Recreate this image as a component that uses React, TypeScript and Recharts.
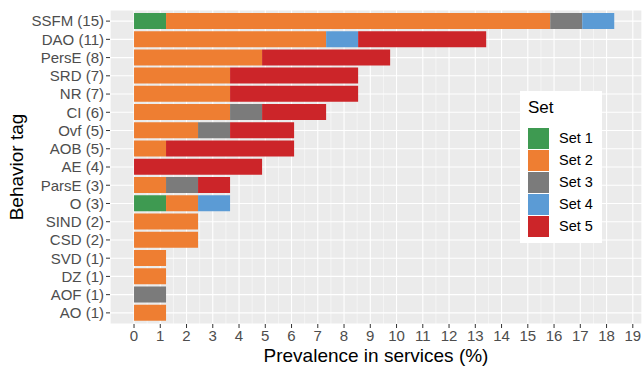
import { Bar, BarChart, CartesianGrid, XAxis, YAxis } from "recharts";

// one service = 100 / 82 %
const TOTAL_SERVICES = 82;

const tags = [
  "SSFM (15)", "DAO (11)", "PersE (8)", "SRD (7)", "NR (7)", "CI (6)", "Ovf (5)", "AOB (5)",
  "AE (4)", "ParsE (3)", "O (3)", "SIND (2)", "CSD (2)", "SVD (1)", "DZ (1)", "AOF (1)", "AO (1)",
];
// services per set, same order as tags
const set1 = [1, 0, 0, 0, 0, 0, 0, 0, 0, 0, 1, 0, 0, 0, 0, 0, 0];
const set2 = [12, 6, 4, 3, 3, 3, 2, 1, 0, 1, 1, 2, 2, 1, 1, 0, 1];
const set3 = [1, 0, 0, 0, 0, 1, 1, 0, 0, 1, 0, 0, 0, 0, 0, 1, 0];
const set4 = [1, 1, 0, 0, 0, 0, 0, 0, 0, 0, 1, 0, 0, 0, 0, 0, 0];
const set5 = [0, 4, 4, 4, 4, 2, 2, 4, 4, 1, 0, 0, 0, 0, 0, 0, 0];

const setNames = ["Set 1", "Set 2", "Set 3", "Set 4", "Set 5"];
const setColors = ["#3E9A51", "#EE7E32", "#7B7B7B", "#5B9BD5", "#CC2529"];

const xTicks = Array.from({ length: 20 }, (_, i) => i);
const minorTicks = Array.from({ length: 21 }, (_, i) => i - 0.5);

const FONT = "'Liberation Sans', Arial, sans-serif";
const TICK = { fontSize: 15, fill: "#4D4D4D", fontFamily: FONT } as const;

const pct = (n: number) => (n * 100) / TOTAL_SERVICES;

const data = tags.map((tag, i) => ({
  tag,
  s1: pct(set1[i]),
  s2: pct(set2[i]),
  s3: pct(set3[i]),
  s4: pct(set4[i]),
  s5: pct(set5[i]),
}));

function SetLegend() {
  return (
    <div
      style={{
        position: "absolute",
        left: 520,
        top: 91,
        background: "#fff",
        width: 82,
        height: 152,
        padding: "8px 0 0 8px",
        boxSizing: "border-box",
        fontFamily: FONT,
      }}
    >
      <div style={{ fontSize: 17, color: "#000", marginBottom: 10, lineHeight: "18px" }}>Set</div>
      {setNames.map((name, i) => (
        <div key={name} style={{ display: "flex", alignItems: "center", height: 22 }}>
          <div style={{ width: 21, height: 21, background: setColors[i] }} />
          <span style={{ marginLeft: 10, fontSize: 14.5, color: "#000" }}>{name}</span>
        </div>
      ))}
    </div>
  );
}

export default function App() {
  return (
    <div style={{ position: "absolute", left: 0, top: 0, width: 644, height: 366, background: "#fff" }}>
      <BarChart
        width={644}
        height={366}
        data={data}
        layout="vertical"
        barCategoryGap="5%"
        margin={{ top: 10, right: 2, bottom: 0, left: 0 }}
      >
        <CartesianGrid fill="#EBEBEB" stroke="#fff" strokeWidth={1.1} xAxisId="main" />
        <CartesianGrid stroke="#fff" strokeWidth={0.5} horizontal={false} xAxisId="minor" />
        <XAxis
          xAxisId="minor"
          type="number"
          domain={[-0.915, 19.35]}
          ticks={minorTicks}
          allowDataOverflow
          hide
        />
        <XAxis
          xAxisId="main"
          type="number"
          domain={[-0.915, 19.35]}
          ticks={xTicks}
          interval={0}
          allowDataOverflow
          height={42}
          tick={TICK}
          tickSize={4}
          tickLine={{ stroke: "#333" }}
          axisLine={false}
          label={{
            value: "Prevalence in services (%)",
            position: "insideBottom",
            offset: 4,
            style: { fontSize: 19, fill: "#000", fontFamily: FONT },
          }}
        />
        <YAxis
          type="category"
          dataKey="tag"
          width={110}
          padding={{ top: 2, bottom: 2 }}
          interval={0}
          tick={TICK}
          tickSize={4}
          tickLine={{ stroke: "#333" }}
          axisLine={false}
          label={{
            value: "Behavior tag",
            angle: -90,
            position: "insideLeft",
            offset: 16,
            style: { fontSize: 19, fill: "#000", fontFamily: FONT, textAnchor: "middle" },
          }}
        />
        {["s1", "s2", "s3", "s4", "s5"].map((key, i) => (
          <Bar
            key={key}
            xAxisId="main"
            dataKey={key}
            name={setNames[i]}
            stackId="a"
            fill={setColors[i]}
            isAnimationActive={false}
          />
        ))}
      </BarChart>
      <SetLegend />
    </div>
  );
}
